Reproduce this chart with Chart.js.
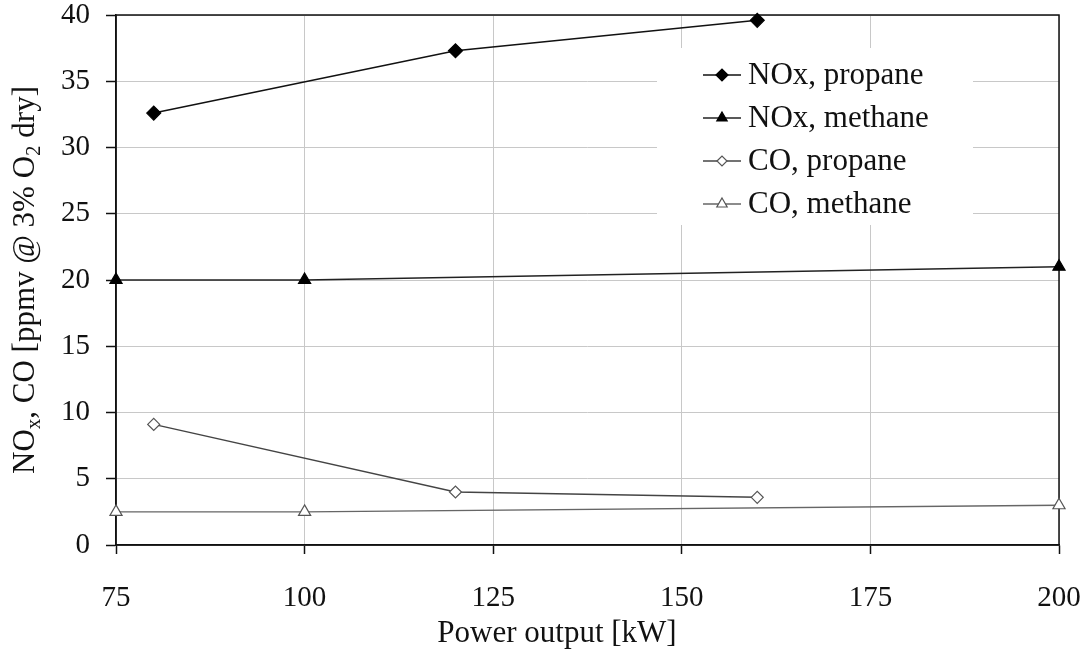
<!DOCTYPE html>
<html>
<head>
<meta charset="utf-8">
<script src="https://cdn.jsdelivr.net/npm/chart.js@4.4.0/dist/chart.umd.min.js"></script>
<style>
  html, body { margin: 0; padding: 0; background: #fff; }
  #wrap { width: 1086px; height: 651px; }
</style>
</head>
<body>
<div id="wrap"><canvas id="emissionsChart" width="1086" height="651"></canvas></div>
<script>
// Data
const nameNoxPropane = 'NOx, propane';
const nameNoxMethane = 'NOx, methane';
const nameCoPropane = 'CO, propane';
const nameCoMethane = 'CO, methane';

const propanePower = [80, 120, 160];
const methanePower = [75, 100, 200];

const noxPropane = [32.6, 37.3, 39.6];
const noxMethane = [20.0, 20.0, 21.0];
const coPropane = [9.1, 4.0, 3.6];
const coMethane = [2.5, 2.5, 3.0];

const xTicks = [75, 100, 125, 150, 175, 200];
const yTicks = [0, 5, 10, 15, 20, 25, 30, 35, 40];

const xTitleText = 'Power output [kW]';

const FONT = "'Liberation Serif', 'Times New Roman', serif";

function pairUp(xs, ys) {
    return xs.map((x, i) => ({ x: x, y: ys[i] }));
}

const seriesList = [
    { label: nameNoxPropane, data: pairUp(propanePower, noxPropane), line: '#111', style: 'rectRot', fill: '#000', edge: '#000', radius: 7 },
    { label: nameNoxMethane, data: pairUp(methanePower, noxMethane), line: '#222', style: 'triangle', fill: '#000', edge: '#000', radius: 7 },
    { label: nameCoPropane, data: pairUp(propanePower, coPropane), line: '#444', style: 'rectRot', fill: '#fff', edge: '#555', radius: 6 },
    { label: nameCoMethane, data: pairUp(methanePower, coMethane), line: '#666', style: 'triangle', fill: '#fff', edge: '#555', radius: 7 }
];

// white legend box drawn on top of the grid
const legendBox = {
    id: 'legendBox',
    beforeDatasetsDraw(chart) {
        const ctx = chart.ctx;
        ctx.save();
        ctx.fillStyle = '#fff';
        ctx.fillRect(657, 48, 316, 177);
        ctx.font = '31px ' + FONT;
        ctx.textBaseline = 'middle';
        ctx.textAlign = 'left';
        seriesList.forEach((s, i) => {
            const y = 75 + i * 43;
            ctx.strokeStyle = s.line;
            ctx.lineWidth = 1.4;
            ctx.beginPath();
            ctx.moveTo(703, y);
            ctx.lineTo(741, y);
            ctx.stroke();
            ctx.fillStyle = s.fill;
            ctx.strokeStyle = s.edge;
            ctx.lineWidth = 1.2;
            Chart.helpers.drawPoint(ctx, { pointStyle: s.style, radius: s.radius - 1, borderWidth: 1.2 }, 722, y);
            ctx.fillStyle = '#111';
            ctx.fillText(s.label, 748, y + 1);
        });
        ctx.restore();
    }
};

// plot frame (top and right edges) in black
const plotFrame = {
    id: 'plotFrame',
    beforeDatasetsDraw(chart) {
        const a = chart.chartArea;
        const ctx = chart.ctx;
        ctx.save();
        ctx.strokeStyle = '#111';
        ctx.lineWidth = 1.5;
        ctx.strokeRect(a.left, a.top, a.right - a.left, a.bottom - a.top);
        ctx.restore();
    }
};

// axis titles: y rotated with subscripts, x slightly left of centre as in the figure
const axisTitles = {
    id: 'axisTitles',
    afterDraw(chart) {
        const ctx = chart.ctx;
        const parts = [
            ['NO', false], ['x', true], [', CO [ppmv @ 3% O', false], ['2', true], [' dry]', false]
        ];
        const big = '31px ' + FONT;
        const small = '21px ' + FONT;
        let total = 0;
        parts.forEach(p => { ctx.font = p[1] ? small : big; total += ctx.measureText(p[0]).width; });
        ctx.save();
        ctx.translate(25, 280);
        ctx.rotate(-Math.PI / 2);
        ctx.fillStyle = '#111';
        ctx.textBaseline = 'alphabetic';
        let x = -total / 2;
        parts.forEach(p => {
            ctx.font = p[1] ? small : big;
            ctx.fillText(p[0], x, p[1] ? 15 : 9);
            x += ctx.measureText(p[0]).width;
        });
        ctx.restore();

        ctx.save();
        ctx.font = '31px ' + FONT;
        ctx.fillStyle = '#111';
        ctx.textAlign = 'center';
        ctx.textBaseline = 'middle';
        ctx.fillText(xTitleText, 557, 634);
        ctx.restore();
    }
};

const ctx = document.getElementById('emissionsChart').getContext('2d');

new Chart(ctx, {
    type: 'line',
    data: {
        datasets: seriesList.map(s => ({
            label: s.label,
            data: s.data,
            borderColor: s.line,
            borderWidth: 1.4,
            pointStyle: s.style,
            pointRadius: s.radius,
            pointBackgroundColor: s.fill,
            pointBorderColor: s.edge,
            pointBorderWidth: 1.2,
            tension: 0,
            fill: false,
            clip: false
        }))
    },
    options: {
        responsive: false,
        animation: false,
        devicePixelRatio: 1,
        layout: { padding: { left: 0, top: 15, right: 27, bottom: 0 } },
        plugins: {
            legend: { display: false },
            tooltip: { enabled: false }
        },
        scales: {
            x: {
                type: 'linear',
                min: 75,
                max: 200,
                afterBuildTicks: (scale) => { scale.ticks = xTicks.map(v => ({ value: v })); },
                afterFit: (scale) => {
                    scale.height = 106;
                    scale.paddingLeft = 0;
                    scale.paddingRight = 0;
                },
                grid: { color: '#c8c8c8', lineWidth: 1, tickLength: 9, tickColor: '#111', tickWidth: 1.5 },
                border: { color: '#111', width: 1.5 },
                ticks: { color: '#111', font: { family: FONT, size: 29, lineHeight: 1 }, padding: 30, maxRotation: 0 },
                title: { display: false }
            },
            y: {
                min: 0,
                max: 40,
                afterBuildTicks: (scale) => { scale.ticks = yTicks.map(v => ({ value: v })); },
                afterFit: (scale) => {
                    scale.width = 116;
                    scale.paddingTop = 0;
                    scale.paddingBottom = 0;
                },
                grid: { color: '#c8c8c8', lineWidth: 1, tickLength: 10, tickColor: '#111', tickWidth: 1.5 },
                border: { color: '#111', width: 1.5 },
                ticks: { color: '#111', font: { family: FONT, size: 29, lineHeight: 1 }, padding: 16 }
            }
        }
    },
    plugins: [legendBox, plotFrame, axisTitles]
});
</script>
</body>
</html>
